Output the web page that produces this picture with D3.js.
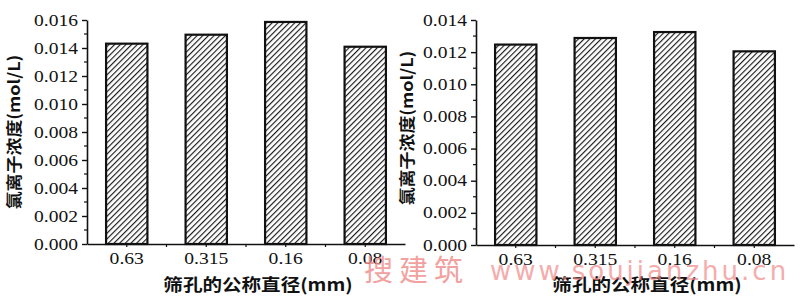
<!DOCTYPE html>
<html>
<head>
<meta charset="utf-8">
<script src="https://cdn.jsdelivr.net/npm/d3@7"></script>
<style>
  body { margin: 0; background: #fff; }
  svg { display: block; }
</style>
</head>
<body>
<svg id="chart" width="800" height="299"></svg>
<script>
// sieve sizes and chloride ion concentration (mol/L)
var categories = ["0.63", "0.315", "0.16", "0.08"];
var leftValues = [0.01431, 0.01495, 0.01586, 0.01409];
var rightValues = [0.01247, 0.01288, 0.01325, 0.01205];
var leftTicks = [0, 0.002, 0.004, 0.006, 0.008, 0.010, 0.012, 0.014, 0.016];
var rightTicks = [0, 0.002, 0.004, 0.006, 0.008, 0.010, 0.012, 0.014];
var yTitle = "氯离子浓度(mol/L)";
var xTitle = "筛孔的公称直径(mm)";

var svg = d3.select("#chart");
var serif = "'Liberation Serif', 'DejaVu Serif', serif";
var cjk = "'Noto Sans CJK SC', sans-serif";

// the scanned figure is a bit wider than tall, stretch texts the same way
function stretch(sel, f) {
    sel.each(function() {
        var w = this.getComputedTextLength();
        d3.select(this).attr("textLength", w * f).attr("lengthAdjust", "spacingAndGlyphs");
    });
}

// hatch pattern for the bars
var pat = svg.append("defs").append("pattern")
    .attr("id", "hatch")
    .attr("patternUnits", "userSpaceOnUse")
    .attr("width", 4)
    .attr("height", 4)
    .attr("patternTransform", "rotate(45)");
pat.append("rect").attr("width", 4).attr("height", 4).attr("fill", "#fff");
pat.append("line")
    .attr("x1", 0).attr("y1", 0).attr("x2", 0).attr("y2", 4)
    .attr("stroke", "#1a1a1a").attr("stroke-width", 2.3);

function drawPanel(opts) {
    var g = svg.append("g");
    var x = d3.scaleBand().domain(categories).range([opts.left, opts.right]).paddingInner(0.48).paddingOuter(0.24);
    var y = d3.scaleLinear().domain([0, opts.max]).range([opts.bottom, opts.top]);

    // bars
    g.selectAll("rect.bar")
        .data(opts.values)
        .enter()
        .append("rect")
        .attr("class", "bar")
        .attr("x", function(d, i) { return x(categories[i]); })
        .attr("y", function(d) { return y(d); })
        .attr("width", x.bandwidth())
        .attr("height", function(d) { return opts.bottom - y(d); })
        .attr("fill", "url(#hatch)")
        .attr("stroke", "#111")
        .attr("stroke-width", 2.2);

    // y axis
    var yAxis = g.append("g")
        .attr("transform", "translate(" + opts.left + ",0)")
        .call(d3.axisLeft(y).tickValues(opts.ticks).tickFormat(d3.format(".3f")).tickSize(5).tickSizeOuter(0));
    yAxis.select(".domain").attr("stroke", "#111").attr("stroke-width", 1.6);
    yAxis.selectAll(".tick line").attr("stroke", "#111").attr("stroke-width", 1.4);
    yAxis.selectAll("text")
        .attr("x", -9)
        .style("font-family", serif)
        .style("font-size", "16px")
        .attr("fill", "#111")
        .call(stretch, 1.22);

    // minor ticks
    var minor = d3.range(opts.ticks.length - 1).map(function(i) { return (opts.ticks[i] + opts.ticks[i + 1]) / 2; });
    g.selectAll("line.minor")
        .data(minor)
        .enter()
        .append("line")
        .attr("x1", opts.left - 3).attr("x2", opts.left)
        .attr("y1", function(d) { return y(d); })
        .attr("y2", function(d) { return y(d); })
        .attr("stroke", "#111").attr("stroke-width", 1.2);

    // x axis
    var xAxis = g.append("g")
        .attr("transform", "translate(0," + opts.bottom + ")")
        .call(d3.axisBottom(x).tickSize(3).tickSizeOuter(0));
    xAxis.select(".domain").attr("stroke", "#111").attr("stroke-width", 1.6);
    xAxis.selectAll(".tick line").attr("stroke", "#111").attr("stroke-width", 1.2);
    xAxis.selectAll("text")
        .attr("y", 8)
        .style("font-family", serif)
        .style("font-size", "17.5px")
        .attr("fill", "#111")
        .call(stretch, 1.12);

    // minor x ticks between categories
    var step = x.step();
    g.selectAll("line.xminor")
        .data(d3.range(1, categories.length))
        .enter()
        .append("line")
        .attr("x1", function(i) { return x(categories[i]) - (step - x.bandwidth()) / 2; })
        .attr("x2", function(i) { return x(categories[i]) - (step - x.bandwidth()) / 2; })
        .attr("y1", opts.bottom).attr("y2", opts.bottom + 3)
        .attr("stroke", "#111").attr("stroke-width", 1.2);

    // titles
    g.append("text")
        .attr("transform", "translate(" + opts.titleX + "," + opts.titleY + ") rotate(-90)")
        .attr("text-anchor", "middle")
        .style("font-family", cjk)
        .style("font-weight", "bold")
        .style("font-size", "16px")
        .attr("fill", "#111")
        .text(yTitle)
        .call(stretch, 1.12);

    g.append("text")
        .attr("x", opts.xTitleX)
        .attr("y", 291)
        .attr("text-anchor", "middle")
        .style("font-family", cjk)
        .style("font-weight", "bold")
        .style("font-size", "17px")
        .attr("fill", "#111")
        .text(xTitle)
        .call(stretch, 1.15);
}

drawPanel({ values: leftValues, ticks: leftTicks, max: 0.016, left: 87, right: 405, top: 20, bottom: 244,
            titleX: 20, titleY: 132, xTitleX: 258 });
drawPanel({ values: rightValues, ticks: rightTicks, max: 0.014, left: 476, right: 794, top: 20, bottom: 245,
            titleX: 413, titleY: 128, xTitleX: 647 });

// watermark
svg.append("text")
    .attr("x", 364).attr("y", 281)
    .style("font-family", cjk)
    .style("font-size", "29px")
    .style("letter-spacing", "6px")
    .attr("fill", "#f08a8a")
    .attr("opacity", 0.8)
    .text("搜建筑");
svg.append("text")
    .attr("x", 490).attr("y", 280)
    .style("font-family", "'DejaVu Sans', sans-serif")
    .style("font-size", "26px")
    .style("letter-spacing", "3px")
    .attr("fill", "#f08a8a")
    .attr("opacity", 0.7)
    .text("www.soujianzhu.cn");
</script>
</body>
</html>
